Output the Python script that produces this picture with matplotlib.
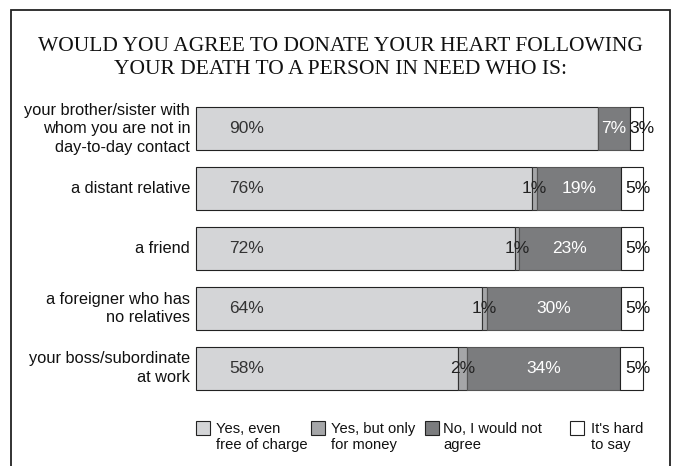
import numpy as np
import matplotlib.pyplot as plt
from matplotlib.patches import Rectangle

# survey answers, percent as printed on the chart
categories = ["your brother/sister with\nwhom you are not in\nday-to-day contact",
              "a distant relative",
              "a friend",
              "a foreigner who has\nno relatives",
              "your boss/subordinate\nat work"]
yes_free = [90, 76, 72, 64, 58]
yes_money = [0, 1, 1, 1, 2]
no_agree = [7, 19, 23, 30, 34]
hard_say = [3, 5, 5, 5, 5]

series_names = ["Yes, even\nfree of charge", "Yes, but only\nfor money",
                "No, I would not\nagree", "It's hard\nto say"]
colors = ["#d4d5d7", "#a5a6a8", "#7b7c7e", "#ffffff"]
edges = ["#222222", "#333333", "#555555", "#222222"]
txt_colors = ["#333333", "#222222", "#ffffff", "#111111"]

plt.rcParams['font.family'] = ['Liberation Sans', 'DejaVu Sans']

fig = plt.figure(figsize=(6.75, 4.66), dpi=100)
ax = fig.add_axes([196/675, 1 - 398/466, 447/675, 299/466])

data = np.array([yes_free, yes_money, no_agree, hard_say], dtype=float)
shares = data / data.sum(axis=0) * 100  # 100% stacked
y = np.arange(len(categories))

left = np.zeros(len(categories))
for k in range(4):
    ax.barh(y, shares[k], left=left, height=0.72, color=colors[k],
            edgecolor=edges[k], linewidth=0.8, clip_on=False)
    for i in range(len(categories)):
        v = data[k, i]
        if v == 0:
            continue
        if k == 0:
            xpos = 11.3
        else:
            xpos = left[i] + shares[k, i] / 2
            if k == 3:
                xpos += 1.3
        ax.text(xpos, y[i], "%d%%" % v, ha="center", va="center",
                fontsize=12.5, color=txt_colors[k])
    left += shares[k]

ax.set_xlim(0, 100)
ax.set_ylim(4.5, -0.5)
ax.axis("off")

for i, c in enumerate(categories):
    ax.text(-1.3, y[i], c, ha="right", va="center", fontsize=11.8,
            color="#111111", linespacing=1.27)

# legend built by hand to match the original spacing
box_x = [196, 311, 425, 570]
txt_x = [216, 331, 443, 591]
for k in range(4):
    fig.patches.append(Rectangle((box_x[k]/675, 1 - 435/466), 14/675, 14/466,
                                 transform=fig.transFigure, facecolor=colors[k],
                                 edgecolor="#222222", linewidth=0.8))
    fig.text(txt_x[k]/675, 1 - 422/466, series_names[k], ha="left", va="top",
             fontsize=10.6, color="#111111", linespacing=1.2)

fig.text(0.505, 1 - 58/466,
         "WOULD YOU AGREE TO DONATE YOUR HEART FOLLOWING\nYOUR DEATH TO A PERSON IN NEED WHO IS:",
         ha="center", va="center", fontsize=15.5, family="Liberation Serif",
         color="#111111", linespacing=1.3)

# outer frame, bottom edge is cut off in the original
fig.patches.append(Rectangle((11/675, -0.05), 659/675, 1.05 - 10/466,
                             transform=fig.transFigure, fill=False,
                             edgecolor="#222222", linewidth=1.3))

fig.savefig("out.png", dpi=100)
